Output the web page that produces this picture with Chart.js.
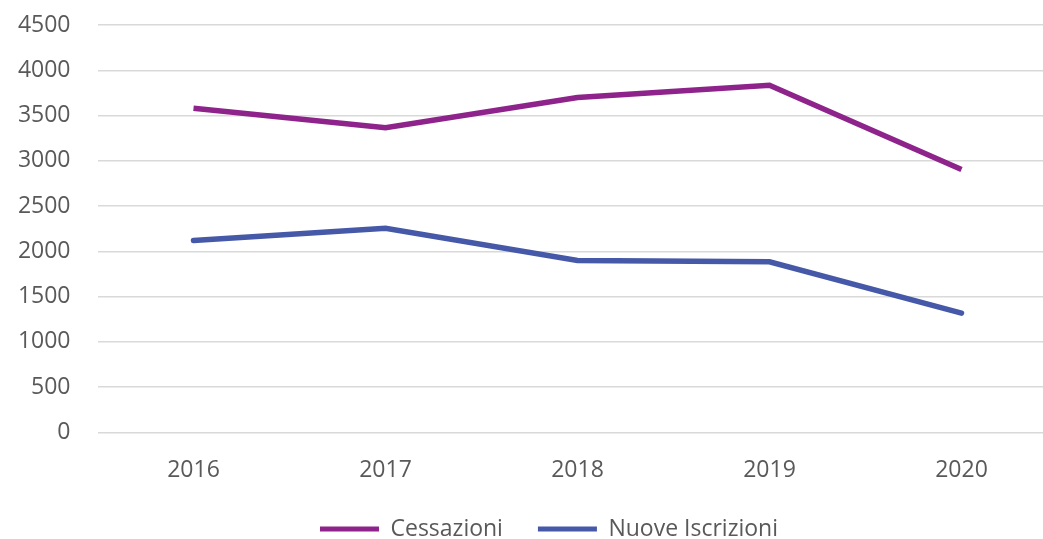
<!DOCTYPE html>
<html>
<head>
<meta charset="utf-8">
<script src="https://cdn.jsdelivr.net/npm/chart.js@4/dist/chart.umd.min.js"></script>
<style>
  html, body { margin: 0; padding: 0; background: #fff; overflow: hidden; }
  #wrap { position: relative; width: 1100px; height: 539px; }
</style>
</head>
<body>
<div id="wrap"><canvas id="lineChart"></canvas></div>
<script>
var years = ['2016', '2017', '2018', '2019', '2020'];
var cessazioni = [3580, 3365, 3700, 3835, 2905];
var nuoveIscrizioni = [2120, 2255, 1900, 1885, 1318];
var yTicks = [0, 500, 1000, 1500, 2000, 2500, 3000, 3500, 4000, 4500];

var textColor = '#595959';
var fontFamily = "'Open Sans', 'DejaVu Sans', sans-serif";

Chart.defaults.font.family = fontFamily;
Chart.defaults.font.size = 23;
Chart.defaults.color = textColor;

function createChart(chartName){
  var ctx = document.getElementById(chartName).getContext('2d');
  var data = {
    labels: years,
    datasets: [
      {label: 'Cessazioni', data: cessazioni, borderColor: '#8E248B', backgroundColor: '#8E248B',
        borderWidth: 5.5, pointRadius: 0, fill: false, tension: 0, borderCapStyle: 'butt'},
      {label: 'Nuove Iscrizioni', data: nuoveIscrizioni, borderColor: '#4559A8', backgroundColor: '#4559A8',
        borderWidth: 5.5, pointRadius: 0, fill: false, tension: 0, borderCapStyle: 'round'}
    ]
  };

  return new Chart(ctx, {
    type: 'line',
    data: data,
    options: {
      responsive: true,
      maintainAspectRatio: false,
      animation: false,
      layout: {padding: {left: 17, right: 19, top: 25, bottom: -11.5}},
      plugins: {
        tooltip: {enabled: false},
        legend: {
          position: 'bottom',
          labels: {
            boxWidth: 59, boxHeight: 5, padding: 35, color: textColor,
            font: {size: 23, family: fontFamily, lineHeight: 1},
            generateLabels: function(chart){
              var items = Chart.defaults.plugins.legend.labels.generateLabels(chart);
              items.forEach(function(item){ item.lineWidth = 0; });
              return items;
            }
          }
        }
      },
      scales: {
        x: {
          offset: true,
          afterFit: function(scale){ scale.height = 50; },
          grid: {display: false},
          border: {display: false},
          ticks: {padding: 18.5, color: textColor, font: {size: 23, lineHeight: 1}}
        },
        y: {
          min: 0,
          max: 4500,
          afterBuildTicks: function(scale){
            scale.ticks = yTicks.map(function(v){ return {value: v}; });
          },
          afterFit: function(scale){
            scale.width = 80.5;
            scale.paddingTop = 0;
            scale.paddingBottom = 0;
          },
          grid: {color: '#d9d9d9', lineWidth: 1.5, drawTicks: false},
          border: {display: false},
          ticks: {padding: 27, color: textColor, font: {size: 23, lineHeight: 1},
            callback: function(value){ return String(value); }}
        },
        yRight: {
          position: 'right',
          afterFit: function(scale){
            scale.width = 23.5;
            scale.paddingTop = 0;
            scale.paddingBottom = 0;
          },
          grid: {display: false},
          border: {display: false},
          ticks: {display: false}
        }
      }
    }
  });
}

createChart('lineChart');
</script>
</body>
</html>
